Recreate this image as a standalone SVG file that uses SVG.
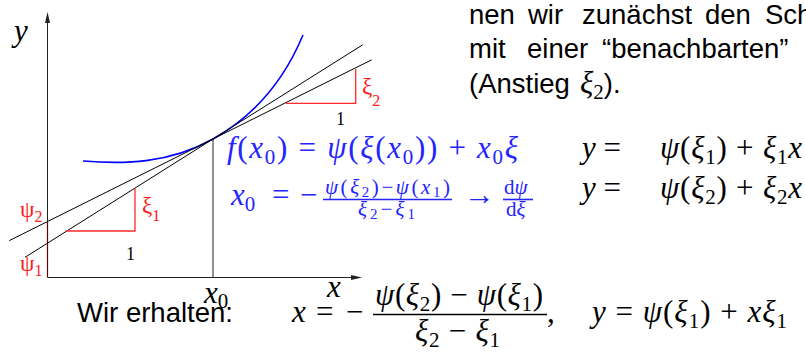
<svg xmlns="http://www.w3.org/2000/svg" width="806" height="352" viewBox="0 0 806 352">
<style>
.m{font-family:"Liberation Serif","DejaVu Serif",serif;font-size:31px}
.i{font-style:italic}
.s{font-size:21px}
.ss{font-size:15px}
.b{fill:#2424ff}
.k{fill:#000}
.r{fill:#ff1a1a;font-family:"Liberation Serif","DejaVu Serif",serif;font-size:23px}
.rs{font-size:16px}
.n{font-family:"Liberation Serif",serif;font-size:18px;fill:#000}
.t{font-family:"Liberation Sans","DejaVu Sans",sans-serif;font-size:27.5px;fill:#000}
.ax{stroke:#222;stroke-width:1;fill:none}
.tl{stroke:#000;stroke-width:1;fill:none}
.tri{stroke:#ff2a2a;stroke-width:1.3;fill:none}
.bar{stroke-width:1.6}
</style>
<rect width="806" height="352" fill="#fff"/>
<g id="axes">
<line class="ax" x1="47.5" y1="15" x2="47.5" y2="277.5"/>
<line class="ax" x1="47.5" y1="277.5" x2="360" y2="277.5"/>
<path d="M47.5 12 L45 23 L50 23 Z" fill="#222"/>
<path d="M362 277.5 L351 275 L351 280 Z" fill="#222"/>
<line x1="47.5" y1="222" x2="47.5" y2="277" stroke="#6a0000" stroke-width="1.2"/>
<line class="ax" x1="213" y1="139" x2="213" y2="277.5"/>
</g>
<g id="curve">
<path d="M83 161 C123 164.2 168 164.2 213 139 C253 116.6 283 83 303 35" fill="none" stroke="#0000ff" stroke-width="1.6"/>
</g>
<g id="tangents">
<line class="tl" x1="9.3" y1="240.6" x2="371.7" y2="59.8"/>
<line class="tl" x1="25" y1="257.3" x2="362.7" y2="44.8"/>
</g>
<g id="triangles">
<path class="tri" d="M65.7 231 H135 V188.5"/>
<path class="tri" d="M286 103.3 H355.7 V69"/>
</g>
<g id="diagram-labels">
<text class="m i" x="14" y="41">y</text>
<text class="m i" x="327" y="297">x</text>
<text class="m" x="204" y="303"><tspan class="i">x</tspan><tspan class="s" dy="5">0</tspan></text>
<text class="r" x="20" y="217">ψ<tspan class="rs" dy="5">2</tspan></text>
<text class="r" x="20" y="271">ψ<tspan class="rs" dy="5">1</tspan></text>
<text class="r" x="142" y="213">ξ<tspan class="rs" dy="8">1</tspan></text>
<text class="r" x="362" y="94">ξ<tspan class="rs" dy="12">2</tspan></text>
<text class="n" x="126" y="260">1</text>
<text class="n" x="336" y="125">1</text>
</g>
<g id="blue-equations" class="m b">
<text x="227" y="158" textLength="291" lengthAdjust="spacing"><tspan class="i">f</tspan>(<tspan class="i">x</tspan><tspan class="s" dy="6">0</tspan><tspan dy="-6">) = </tspan><tspan class="i">ψ</tspan>(<tspan class="i">ξ</tspan>(<tspan class="i">x</tspan><tspan class="s" dy="6">0</tspan><tspan dy="-6">)) + </tspan><tspan class="i">x</tspan><tspan class="s" dy="6">0</tspan><tspan class="i" dy="-6">ξ</tspan></text>
<text x="231" y="205"><tspan class="i">x</tspan><tspan class="s" dy="6">0</tspan></text>
<text x="272" y="205">=</text>
<text x="300" y="205">−</text>
<line class="bar" x1="323" y1="199.5" x2="452" y2="199.5" stroke="#2424ff"/>
<text class="s" x="325" y="194" textLength="125" lengthAdjust="spacing"><tspan class="i">ψ</tspan>(<tspan class="i">ξ</tspan><tspan class="ss" dy="3">2</tspan><tspan dy="-3">)−</tspan><tspan class="i">ψ</tspan>(<tspan class="i">x</tspan><tspan class="ss" dy="3">1</tspan><tspan dy="-3">)</tspan></text>
<text class="s" x="358" y="216" textLength="57" lengthAdjust="spacing"><tspan class="i">ξ</tspan><tspan class="ss" dy="3">2</tspan><tspan dy="-3">−</tspan><tspan class="i">ξ</tspan><tspan class="ss" dy="3">1</tspan></text>
<text x="464" y="205">→</text>
<text class="s" x="504" y="194">d<tspan class="i">ψ</tspan></text>
<line class="bar" x1="503" y1="199.5" x2="533" y2="199.5" stroke="#2424ff"/>
<text class="s" x="506" y="216">d<tspan class="i">ξ</tspan></text>
</g>
<g id="line-equations" class="m k">
<text x="582" y="158"><tspan class="i">y</tspan> =</text>
<text x="660" y="158" textLength="142" lengthAdjust="spacing"><tspan class="i">ψ</tspan>(<tspan class="i">ξ</tspan><tspan class="s" dy="6">1</tspan><tspan dy="-6">) + </tspan><tspan class="i">ξ</tspan><tspan class="s" dy="6">1</tspan><tspan class="i" dy="-6">x</tspan></text>
<text x="582" y="198"><tspan class="i">y</tspan> =</text>
<text x="660" y="198" textLength="142" lengthAdjust="spacing"><tspan class="i">ψ</tspan>(<tspan class="i">ξ</tspan><tspan class="s" dy="6">2</tspan><tspan dy="-6">) + </tspan><tspan class="i">ξ</tspan><tspan class="s" dy="6">2</tspan><tspan class="i" dy="-6">x</tspan></text>
</g>
<g id="result" class="m k">
<text class="t" x="77" y="321.5" textLength="156" lengthAdjust="spacingAndGlyphs">Wir erhalten:</text>
<text x="292" y="321.5" class="i">x</text>
<text x="316" y="321.5">=</text>
<text x="346" y="321.5">−</text>
<line class="bar" x1="373" y1="314.5" x2="547" y2="314.5" stroke="#000"/>
<text x="375" y="305" textLength="168" lengthAdjust="spacing"><tspan class="i">ψ</tspan>(<tspan class="i">ξ</tspan><tspan class="s" dy="6">2</tspan><tspan dy="-6">) − </tspan><tspan class="i">ψ</tspan>(<tspan class="i">ξ</tspan><tspan class="s" dy="6">1</tspan><tspan dy="-6">)</tspan></text>
<text x="415" y="341" textLength="85" lengthAdjust="spacing"><tspan class="i">ξ</tspan><tspan class="s" dy="6">2</tspan><tspan dy="-6"> − </tspan><tspan class="i">ξ</tspan><tspan class="s" dy="6">1</tspan></text>
<text x="547" y="321.5">,</text>
<text x="592" y="321.5" textLength="195" lengthAdjust="spacing"><tspan class="i">y</tspan> = <tspan class="i">ψ</tspan>(<tspan class="i">ξ</tspan><tspan class="s" dy="6">1</tspan><tspan dy="-6">) + </tspan><tspan class="i">x</tspan><tspan class="i">ξ</tspan><tspan class="s" dy="6">1</tspan></text>
</g>
<g id="text-block" class="t">
<text y="24"><tspan x="469">nen</tspan><tspan x="528">wir</tspan><tspan x="582">zunächst</tspan><tspan x="705">den</tspan><tspan x="765">Sch</tspan></text>
<text y="58"><tspan x="469">mit</tspan><tspan x="527">einer</tspan><tspan x="602">“benachbarten”</tspan></text>
<text y="93"><tspan x="469">(Anstieg</tspan><tspan x="580" class="m i">ξ</tspan><tspan class="s m" dy="6">2</tspan><tspan dy="-6">).</tspan></text>
</g>
</svg>
